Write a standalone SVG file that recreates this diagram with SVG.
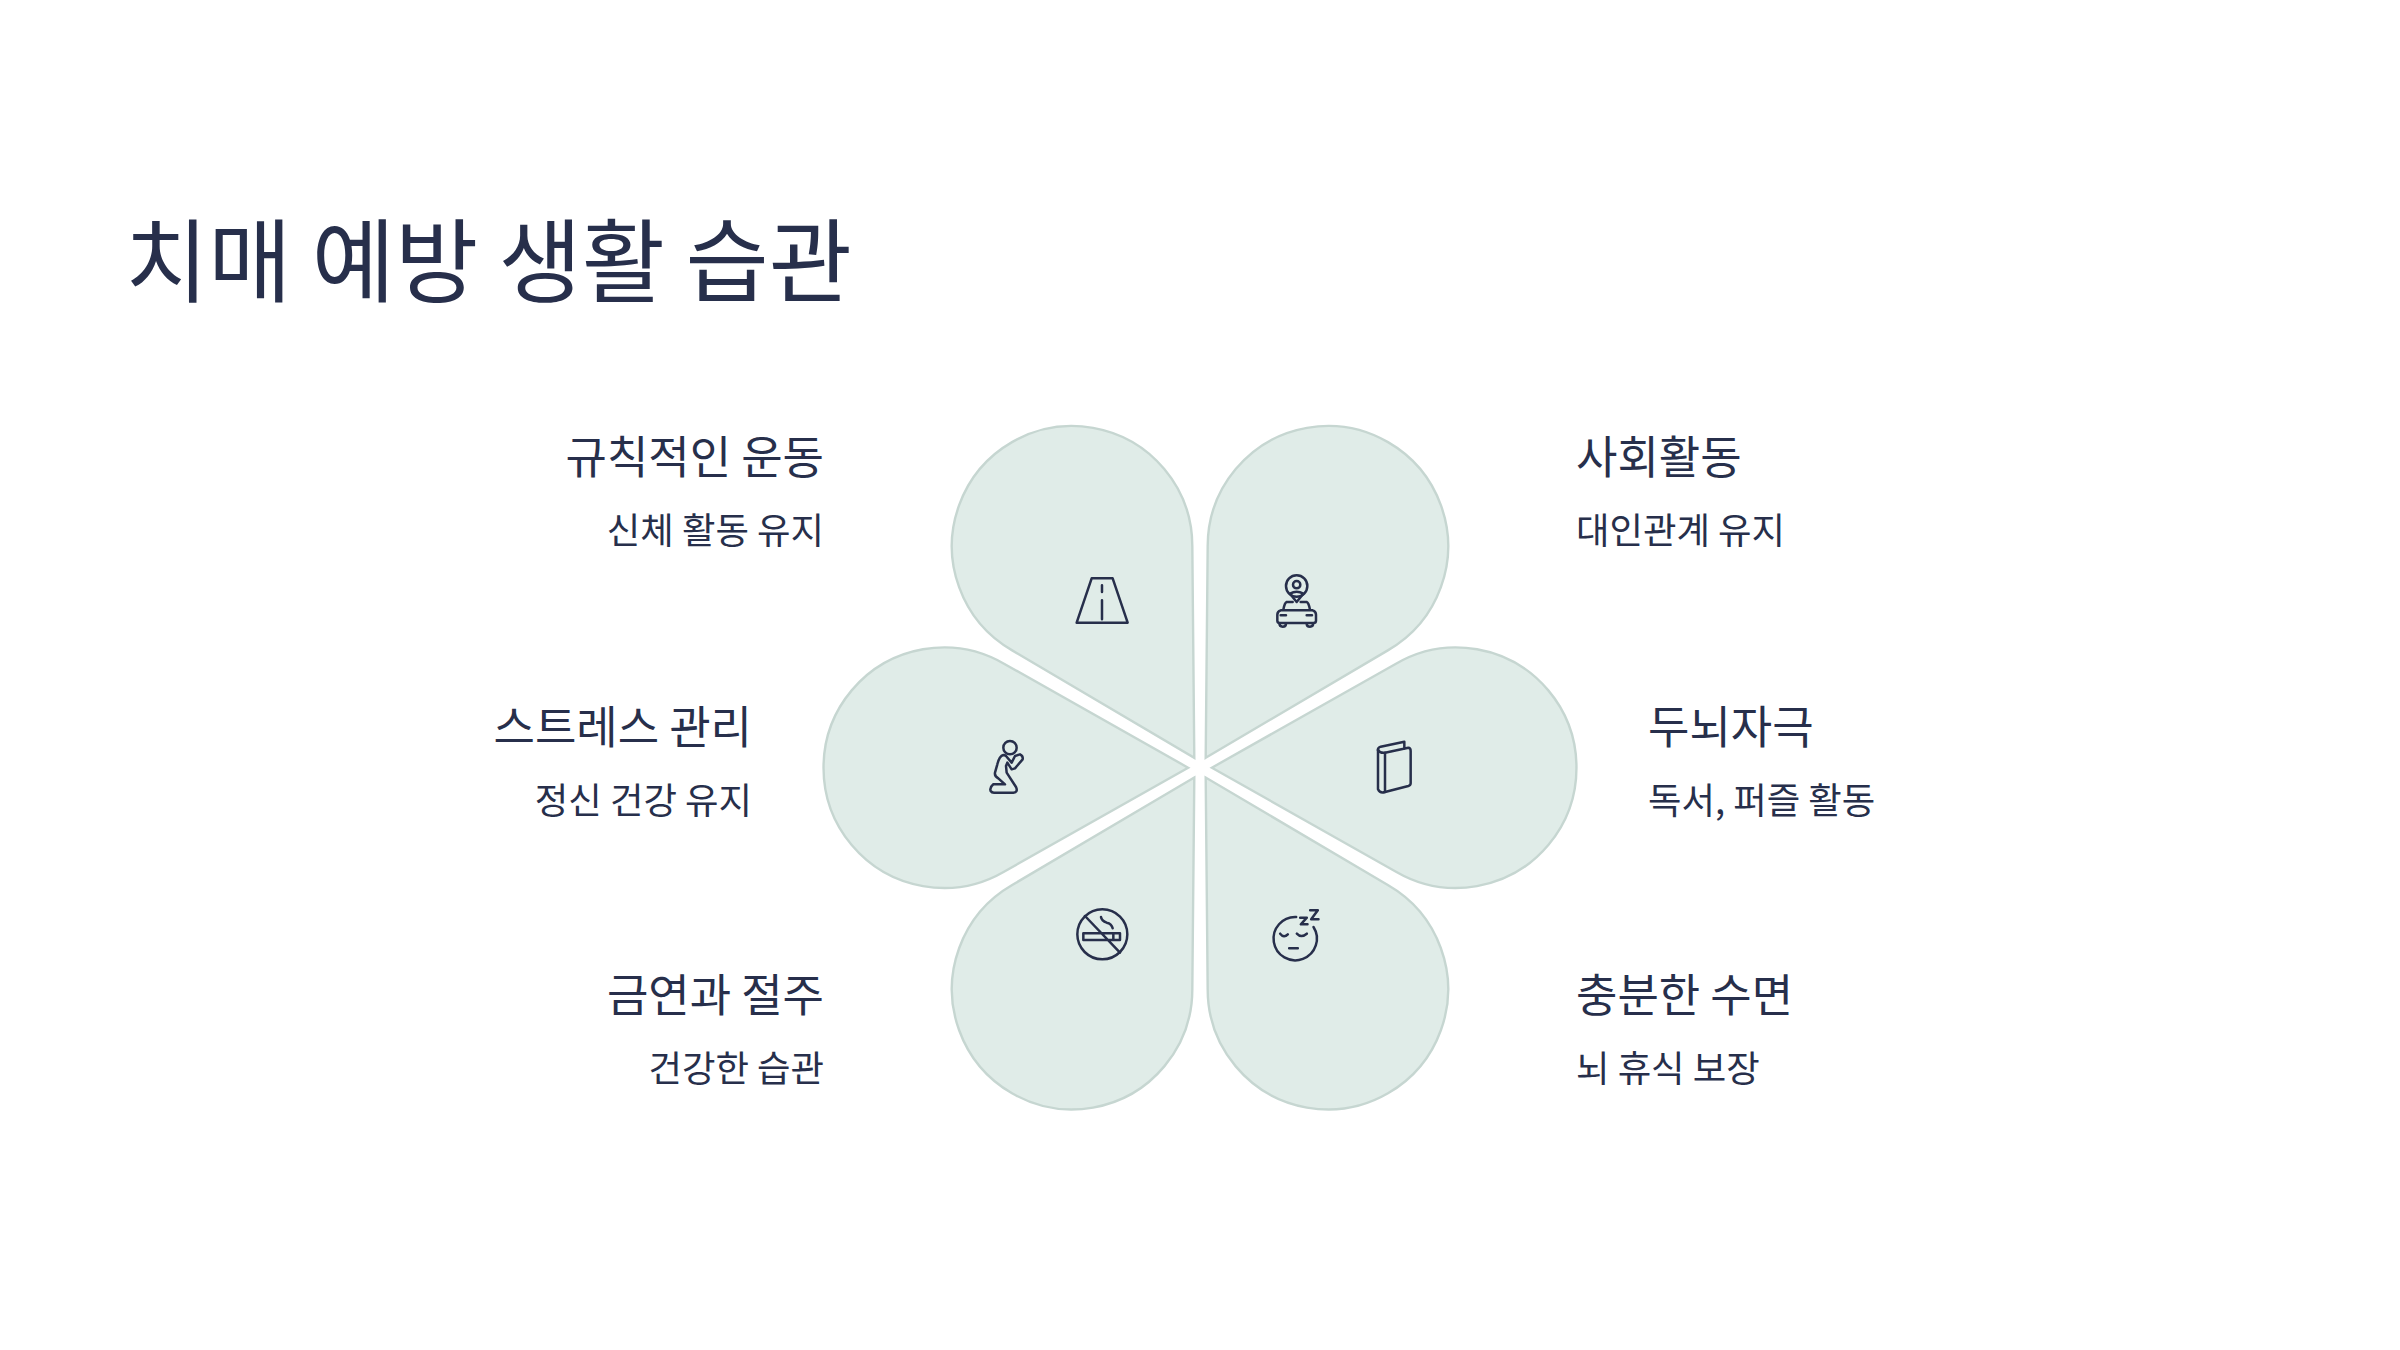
<svg xmlns="http://www.w3.org/2000/svg" width="2400" height="1350" viewBox="0 0 2400 1350">
<defs>
<style>
text{font-family:"Noto Sans CJK KR","Noto Sans",sans-serif;fill:#272F4B}
.title{font-size:90.5px}
.h{font-size:45px}
.s{font-size:36.4px}
.e{text-anchor:end}
.petal{fill:#E0ECE8;stroke:#C6D6D1;stroke-width:2.4}
.i{fill:none;stroke:#272F4B;stroke-width:7.5;stroke-linecap:round;stroke-linejoin:round}
</style>
<path id="p" d="M0,-11.4 L104,-195.5 A120.2,120.2 0 1 0 -104,-195.5 Z"/>
</defs>
<rect width="2400" height="1350" fill="#FFFFFF"/>
<text class="title" x="125" y="295">치매 예방 생활 습관</text>
<g id="node-exercise">
<use href="#p" class="petal" transform="translate(1200 767.7) rotate(-30)"/>
<g class="i" transform="translate(1050 561) scale(.3333)"><path d="M125,52H188L233,185H80Z"/><path d="M156,73V93M156,118V175"/></g>
<text class="h e" x="824" y="473.500">규칙적인 운동</text>
<text class="s e" x="824" y="544">신체 활동 유지</text>
</g>
<g id="node-social">
<use href="#p" class="petal" transform="translate(1200 767.7) rotate(30)"/>
<g class="i" transform="translate(1260 562) scale(.3333)"><circle cx="110" cy="72" r="32"/><circle cx="110" cy="68" r="11"/><path d="M90,95Q110,84 130,95L110,120Z"/><path d="M98,120H80Q74,122 70,143M122,120H140Q146,122 150,143"/><path d="M62,145H158Q168,148 168,158V176Q168,183 160,183H60Q52,183 52,176V158Q52,148 62,145ZM62,160H78M140,160H156M58,183Q58,194 68,194Q78,194 78,185M140,185Q140,194 150,194Q160,194 160,183"/></g>
<text class="h" x="1576" y="473.500">사회활동</text>
<text class="s" x="1576" y="544">대인관계 유지</text>
</g>
<g id="node-stress">
<use href="#p" class="petal" transform="translate(1199.5 767.7) rotate(-90)"/>
<g class="i" transform="translate(970 731) scale(.3333)"><circle cx="120" cy="50" r="20"/><path d="M100,72Q88,75 82,100L75,125Q73,135 85,142L105,160H70Q58,170 62,180Q65,185 72,185H130Q145,183 138,168L110,125L108,105L112,95L125,115L135,112L158,85Q160,75 150,70L135,75L125,95L108,75Q105,72 100,72Z"/></g>
<text class="h e" x="752" y="743.500">스트레스 관리</text>
<text class="s e" x="752" y="814">정신 건강 유지</text>
</g>
<g id="node-brain">
<use href="#p" class="petal" transform="translate(1200.5 767.7) rotate(90)"/>
<g class="i" transform="translate(1360 726) scale(.3333)"><path d="M75,80L145,65Q152,65 152,75V172Q152,178 145,180L75,198Q60,203 54,190V75Q52,65 62,62L133,47V68"/><path d="M54,72Q60,82 75,80V198"/></g>
<text class="h" x="1648" y="743.500">두뇌자극</text>
<text class="s" x="1648" y="814">독서, 퍼즐 활동</text>
</g>
<g id="node-smoke">
<use href="#p" class="petal" transform="translate(1200 767.7) rotate(-150)"/>
<g class="i" transform="translate(1065 901) scale(.3333)"><circle cx="112" cy="100" r="75"/><path d="M60,45L165,155M55,97H165V117H55ZM145,97V117M108,48Q110,60 125,65Q140,68 143,82"/></g>
<text class="h e" x="824" y="1012">금연과 절주</text>
<text class="s e" x="824" y="1082">건강한 습관</text>
</g>
<g id="node-sleep">
<use href="#p" class="petal" transform="translate(1200 767.7) rotate(150)"/>
<g class="i" transform="translate(1258.500 901) scale(.3333)"><path d="M113,48A65,65 0 1 0 165,78M65,98Q76,112 88,100M115,98Q128,112 145,98M92,142H118M125,50H145L127,70H147M155,28H178L158,55H180"/></g>
<text class="h" x="1576" y="1012">충분한 수면</text>
<text class="s" x="1576" y="1082">뇌 휴식 보장</text>
</g>
</svg>
